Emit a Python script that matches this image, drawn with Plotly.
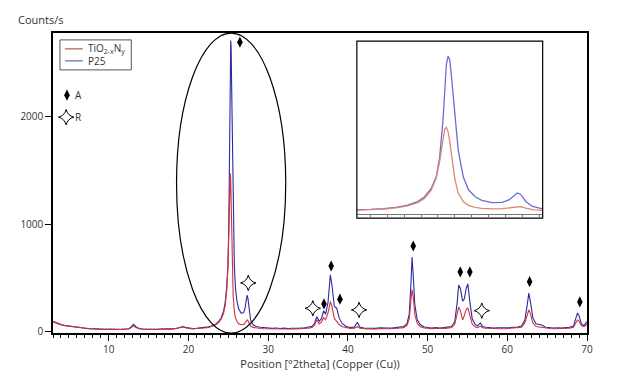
import plotly.graph_objects as go

# ---- data ----
two_theta = [
    3.0, 3.5, 4.0, 4.5, 5.0, 5.5, 6.0, 6.5, 7.0, 7.5, 8.0, 8.5, 9.0, 9.5, 10.0, 10.5, 11.0, 11.5, 12.0, 12.5,
    12.8, 13.1, 13.4, 13.8, 14.3, 15.0, 15.5, 16.0, 16.5, 17.0, 17.5, 18.0, 18.5, 19.0, 19.3, 19.6, 20.0, 20.5,
    21.0, 21.5, 22.0, 22.5, 23.0, 23.4, 23.8, 24.1, 24.4, 24.6, 24.8, 24.95, 25.05, 25.15, 25.2, 25.25, 25.3,
    25.35, 25.4, 25.5, 25.6, 25.75, 25.9, 26.1, 26.3, 26.6, 26.9, 27.1, 27.25, 27.35, 27.45, 27.6, 27.8, 28.1,
    28.5, 29.0, 29.5, 30.0, 30.5, 31.0, 31.5, 32.0, 32.5, 33.0, 33.5, 34.0, 34.5, 35.0, 35.5, 35.8, 36.1, 36.4,
    36.7, 36.95, 37.2, 37.5, 37.8, 38.0, 38.3, 38.6, 38.9, 39.3, 39.8, 40.3, 40.8, 41.2, 41.5, 42.0, 42.5, 43.0,
    43.5, 44.0, 44.5, 45.0, 45.5, 46.0, 46.5, 47.0, 47.4, 47.7, 47.9, 48.05, 48.2, 48.4, 48.7, 49.1, 49.6, 50.0,
    50.5, 51.0, 51.5, 52.0, 52.5, 53.0, 53.4, 53.7, 53.9, 54.1, 54.4, 54.6, 54.85, 55.05, 55.3, 55.6, 56.0, 56.3,
    56.6, 56.9, 57.3, 57.8, 58.3, 58.8, 59.3, 59.8, 60.3, 60.8, 61.3, 61.8, 62.2, 62.5, 62.7, 62.9, 63.2, 63.6,
    64.0, 64.4, 64.8, 65.3, 65.8, 66.3, 66.8, 67.3, 67.8, 68.3, 68.6, 68.8, 69.0, 69.3, 69.6, 69.8, 70.0,
]
counts_p25 = [
    92, 78, 66, 58, 52, 46, 42, 36, 34, 31, 28, 30, 26, 24, 27, 23, 26, 22, 27, 30,
    46, 70, 48, 32, 27, 24, 26, 23, 27, 24, 28, 29, 32, 44, 50, 42, 34, 31,
    33, 36, 40, 47, 58, 72, 98, 132, 192, 272, 420, 620, 950, 1600, 2150, 2560, 2700,
    2640, 2350, 1680, 1080, 620, 400, 275, 215, 175, 178, 220, 300, 340, 315, 195, 108, 66,
    50, 43, 38, 36, 33, 37, 32, 35, 31, 34, 32, 35, 37, 42, 52, 78, 140, 98,
    125, 195, 165, 270, 530, 430, 235, 220, 130, 76, 50, 40, 44, 90, 46, 36, 33, 37,
    33, 38, 34, 37, 35, 39, 41, 50, 75, 165, 430, 695, 520, 250, 112, 66, 46, 41,
    37, 40, 36, 40, 43, 50, 94, 265, 435, 405, 285, 305, 405, 445, 280, 122, 66, 56,
    84, 50, 43, 39, 36, 39, 35, 38, 40, 42, 46, 55, 110, 250, 360, 280, 132, 76,
    70, 62, 43, 38, 36, 39, 35, 40, 43, 54, 120, 175, 150, 75, 58, 72, 95,
]
counts_tio2_xny = [
    98, 82, 70, 60, 55, 49, 43, 39, 36, 32, 30, 27, 26, 25, 23, 25, 22, 24, 25, 27,
    38, 56, 40, 29, 25, 24, 22, 24, 25, 22, 26, 26, 30, 41, 47, 40, 32, 29,
    30, 33, 36, 42, 52, 64, 88, 120, 172, 246, 390, 600, 880, 1280, 1440, 1470, 1400,
    1230, 980, 580, 340, 192, 128, 94, 76, 66, 70, 84, 100, 110, 106, 80, 55, 42,
    35, 32, 30, 29, 27, 29, 26, 28, 25, 28, 27, 29, 31, 34, 42, 60, 112, 75,
    92, 132, 112, 175, 282, 235, 125, 96, 68, 48, 38, 33, 35, 48, 34, 30, 28, 30,
    27, 31, 28, 30, 30, 32, 34, 40, 58, 120, 285, 390, 330, 160, 78, 48, 37, 33,
    31, 33, 30, 33, 35, 40, 68, 172, 230, 200, 112, 150, 210, 222, 150, 72, 45, 40,
    54, 38, 34, 32, 30, 32, 29, 31, 33, 34, 37, 44, 86, 170, 205, 170, 84, 50,
    45, 40, 35, 32, 30, 32, 30, 33, 35, 43, 85, 110, 100, 58, 48, 57, 75,
]
assert len(two_theta) == len(counts_p25) == len(counts_tio2_xny)

series_names = ["TiO<sub>2-x</sub>N<sub>y</sub>", "P25"]

# peak-label marker positions (A = anatase, R = rutile)
anatase_x = [26.45, 37.0, 37.9, 39.0, 48.2, 54.1, 55.3, 62.8, 69.1]
anatase_y = [2685, 259, 611, 303, 796, 556, 556, 466, 278]
rutile_x = [27.5, 35.6, 41.4, 56.8]
rutile_y = [454, 219, 204, 197]

# key markers drawn inside the plot
key_x = [4.75, 4.65]
key_y = [2194, 1990]
key_text = ["A", "R"]

x_ticks = [10, 20, 30, 40, 50, 60, 70]
y_ticks = [0, 1000, 2000]

BLUE = "#2a2a9e"
RED = "#d4303e"
FONT = "Open Sans, DejaVu Sans, sans-serif"
TXT = "#333"

fig = go.Figure()

# main traces
fig.add_trace(go.Scatter(x=two_theta, y=counts_p25, mode="lines", name=series_names[1],
                         showlegend=False, line=dict(color=BLUE, width=1.1)))
fig.add_trace(go.Scatter(x=two_theta, y=counts_tio2_xny, mode="lines", name=series_names[0],
                         showlegend=False, line=dict(color=RED, width=1.1)))

# inset traces
fig.add_trace(go.Scatter(x=two_theta, y=counts_p25, mode="lines", showlegend=False,
                         line=dict(color="#6c6cd2", width=1.3), xaxis="x2", yaxis="y2"))
fig.add_trace(go.Scatter(x=two_theta, y=counts_tio2_xny, mode="lines", showlegend=False,
                         line=dict(color="#e08570", width=1.3), xaxis="x2", yaxis="y2"))

# phase markers
diamond = dict(symbol="diamond-tall", size=8, color="black")
star = dict(symbol="star-diamond-open", size=11, color="black", line=dict(color="#333", width=1))
fig.add_trace(go.Scatter(x=anatase_x, y=anatase_y, mode="markers", showlegend=False, marker=diamond))
fig.add_trace(go.Scatter(x=rutile_x, y=rutile_y, mode="markers", showlegend=False, marker=star))
fig.add_trace(go.Scatter(x=[key_x[0]], y=[key_y[0]], mode="markers", showlegend=False, marker=diamond))
fig.add_trace(go.Scatter(x=[key_x[1]], y=[key_y[1]], mode="markers", showlegend=False, marker=star))

for kx, ky, kt in zip(key_x, key_y, key_text):
    fig.add_annotation(x=kx + 0.8, y=ky, text=kt, showarrow=False, xanchor="left",
                       font=dict(size=10, color=TXT, family=FONT))

# custom legend box (small, as in the reference)
fig.add_shape(type="rect", xref="paper", yref="paper", x0=0.013, x1=0.1466, y0=0.877, y1=0.977,
              line=dict(color="#555", width=1), fillcolor="white")
legend_rows_y = [0.947, 0.907]
legend_colors = ["#b03434", "#4a4a9a"]
for name, ly, lc in zip(series_names, legend_rows_y, legend_colors):
    fig.add_shape(type="line", xref="paper", yref="paper", x0=0.0223, x1=0.0557, y0=ly, y1=ly,
                  line=dict(color=lc, width=1))
    fig.add_annotation(x=0.061, y=ly, xref="paper", yref="paper", text=name, showarrow=False,
                       xanchor="left", yanchor="middle", font=dict(size=10, color=TXT, family=FONT))

# ellipse around main peak
fig.add_shape(type="circle", xref="x", yref="y", x0=18.5, x1=32.2, y0=-12, y1=2769,
              line=dict(color="black", width=1.2))

# inset border
fig.add_shape(type="rect", xref="paper", yref="paper", x0=0.569, x1=0.917, y0=0.383, y1=0.973,
              line=dict(color="black", width=1.2))

fig.add_annotation(x=0, y=1.0, xref="paper", yref="paper", xshift=-37, yshift=4, text="Counts/s",
                   showarrow=False, xanchor="left", yanchor="bottom",
                   font=dict(size=11, color=TXT, family=FONT))

fig.update_layout(
    width=614, height=372,
    margin=dict(l=40, r=35, t=25, b=47),
    plot_bgcolor="white", paper_bgcolor="white",
    font=dict(family=FONT, size=10, color=TXT),
    showlegend=False,
    xaxis=dict(range=[3, 70], tickvals=x_ticks, ticks="outside", ticklen=6, tickcolor="black",
               showline=True, linecolor="black", linewidth=1.5, mirror=True, showgrid=False,
               zeroline=False,
               minor=dict(dtick=1, ticks="outside", ticklen=3, tickcolor="black", showgrid=False),
               title=dict(text="Position [°2theta] (Copper (Cu))", standoff=2,
                          font=dict(size=11, color=TXT)),
               tickfont=dict(size=10, color=TXT)),
    yaxis=dict(range=[-10, 2770], tickvals=y_ticks, ticks="outside", ticklen=6, tickcolor="black",
               showline=True, linecolor="black", linewidth=1.5, mirror=True, showgrid=False,
               zeroline=False, tickfont=dict(size=10, color=TXT)),
    xaxis2=dict(domain=[0.569, 0.917], anchor="y2", range=[22.6, 28.1], showticklabels=False,
                ticks="outside", ticklen=2, dtick=0.5, tickcolor="#777", showline=True,
                linecolor="#777", linewidth=1, showgrid=False, zeroline=False),
    yaxis2=dict(domain=[0.397, 0.973], anchor="x2", range=[-20, 2960], showticklabels=False,
                ticks="", showline=False, showgrid=False, zeroline=False),
)

fig.write_html("out.html")
